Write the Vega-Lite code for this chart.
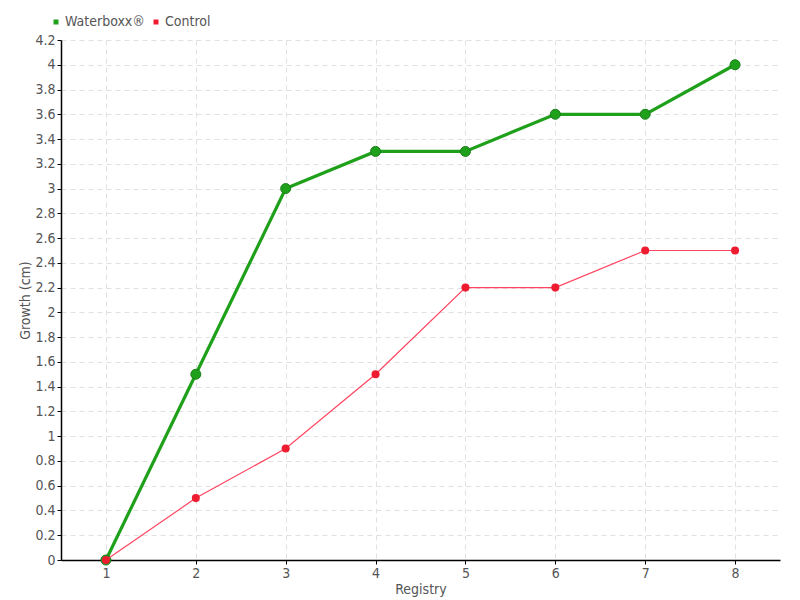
{
  "$schema": "https://vega.github.io/schema/vega-lite/v6.json",
  "width": 719,
  "height": 520,
  "autosize": {"type": "none"},
  "padding": {"left": 61, "top": 40, "right": 20, "bottom": 40},
  "background": "white",
  "config": {
    "font": "DejaVu Sans Condensed, Liberation Sans Narrow, sans-serif",
    "view": {"stroke": null},
    "axis": {
      "labelColor": "#555555",
      "titleColor": "#555555",
      "labelFontSize": 14,
      "titleFontSize": 14,
      "titleFontWeight": "normal",
      "domainColor": "#000000",
      "domainWidth": 1.5,
      "tickColor": "#000000",
      "tickSize": 4,
      "gridColor": "#e0e0e0",
      "gridDash": [5, 4],
      "gridWidth": 1
    }
  },
  "data": {
    "values": [
      {"registry": 1, "growth": 0, "series": "Waterboxx®"},
      {"registry": 2, "growth": 1.5, "series": "Waterboxx®"},
      {"registry": 3, "growth": 3.0, "series": "Waterboxx®"},
      {"registry": 4, "growth": 3.3, "series": "Waterboxx®"},
      {"registry": 5, "growth": 3.3, "series": "Waterboxx®"},
      {"registry": 6, "growth": 3.6, "series": "Waterboxx®"},
      {"registry": 7, "growth": 3.6, "series": "Waterboxx®"},
      {"registry": 8, "growth": 4.0, "series": "Waterboxx®"},
      {"registry": 1, "growth": 0, "series": "Control"},
      {"registry": 2, "growth": 0.5, "series": "Control"},
      {"registry": 3, "growth": 0.9, "series": "Control"},
      {"registry": 4, "growth": 1.5, "series": "Control"},
      {"registry": 5, "growth": 2.2, "series": "Control"},
      {"registry": 6, "growth": 2.2, "series": "Control"},
      {"registry": 7, "growth": 2.5, "series": "Control"},
      {"registry": 8, "growth": 2.5, "series": "Control"}
    ]
  },
  "encoding": {
    "x": {
      "field": "registry", "type": "quantitative",
      "scale": {"domain": [0.5, 8.5], "nice": false, "zero": false},
      "axis": {"values": [1, 2, 3, 4, 5, 6, 7, 8], "title": "Registry", "titlePadding": 2, "labelPadding": 2}
    },
    "y": {
      "field": "growth", "type": "quantitative",
      "scale": {"domain": [0, 4.2], "nice": false},
      "axis": {
        "values": [0, 0.2, 0.4, 0.6, 0.8, 1, 1.2, 1.4, 1.6, 1.8, 2, 2.2, 2.4, 2.6, 2.8, 3, 3.2, 3.4, 3.6, 3.8, 4, 4.2],
        "format": "~g", "title": "Growth (cm)", "titlePadding": 2, "labelPadding": 2
      }
    },
    "color": {
      "field": "series", "type": "nominal",
      "scale": {"domain": ["Waterboxx®", "Control"], "range": ["#1fa01a", "#ee1c30"]},
      "legend": {
        "title": null, "orient": "none", "direction": "horizontal",
        "legendX": -12, "legendY": -25,
        "symbolType": "square", "symbolSize": 25, "symbolStrokeWidth": 0,
        "labelFontSize": 14, "labelColor": "#555555", "columnPadding": 4, "labelOffset": 2
      }
    }
  },
  "layer": [
    {
      "transform": [{"filter": "datum.series === 'Waterboxx®'"}],
      "mark": {"type": "line", "strokeWidth": 3.2}
    },
    {
      "transform": [{"filter": "datum.series === 'Waterboxx®'"}],
      "mark": {"type": "point", "filled": true, "size": 100, "opacity": 1, "stroke": "#1a7d1a", "strokeWidth": 1}
    },
    {
      "transform": [{"filter": "datum.series === 'Control'"}],
      "mark": {"type": "line", "strokeWidth": 1.2, "stroke": "#ff4560"}
    },
    {
      "transform": [{"filter": "datum.series === 'Control'"}],
      "mark": {"type": "point", "filled": true, "size": 65, "opacity": 1}
    }
  ]
}
